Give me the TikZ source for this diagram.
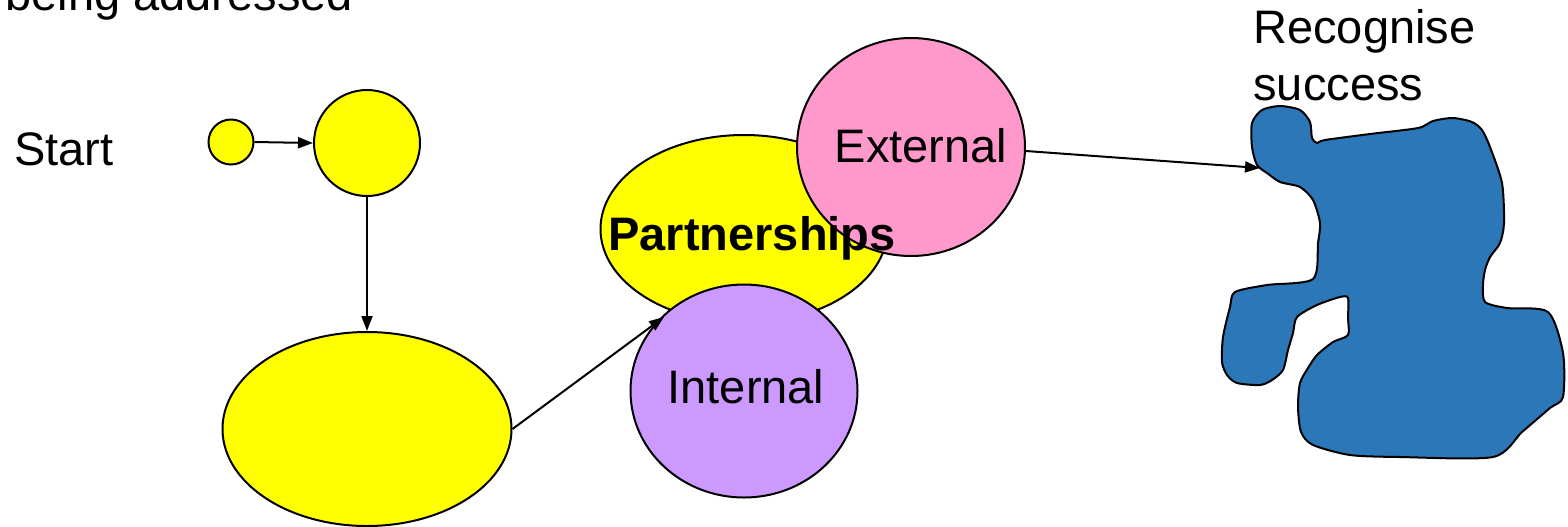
\documentclass[tikz,border=0pt]{standalone}
\usepackage{fontspec}
\setmainfont{Liberation Sans}
\usetikzlibrary{arrows.meta,shapes.geometric}
\definecolor{sunyellow}{HTML}{FFFF00}
\definecolor{rosepink}{HTML}{FF99CC}
\definecolor{lilac}{HTML}{CC99FF}
\definecolor{goalblue}{HTML}{2B77B8}
\tikzset{
  blob/.style={ellipse,draw=black,line width=1pt,inner sep=0pt},
  link/.style={line width=1pt,-{Triangle[length=7.5pt,width=5.5pt]}},
  lbl/.style={font=\fontsize{23.5}{28}\selectfont,inner sep=0pt},
}
\begin{document}
\begin{tikzpicture}[x=0.5pt,y=-0.5pt]
\useasboundingbox (0,0) rectangle (1568,526);

% title line running off the top edge
\node[lbl,anchor=base west] (title) at (5,10) {being addressed};
\node[lbl,anchor=base west] (start) at (14,165) {Start};

% starting chain
\node[blob,fill=sunyellow,minimum width=22.5pt,minimum height=22.5pt] (seed) at (231,142) {};
\node[blob,fill=sunyellow,minimum width=53pt,minimum height=53pt] (grow) at (367,143) {};
\node[blob,fill=sunyellow,minimum width=144.5pt,minimum height=97pt] (base) at (367,429) {};

% partnerships cluster
\node[blob,fill=sunyellow,minimum width=143.5pt,minimum height=94pt] (part) at (744,229) {};
\node[blob,fill=rosepink,minimum width=114pt,minimum height=109pt] (ext) at (911,147) {};
\node[lbl,anchor=base] (exttxt) at (921,162) {External};
\node[lbl,anchor=base west,font=\fontsize{23.5}{28}\selectfont\bfseries] (parttxt) at (608,250) {Partnerships};
\node[blob,fill=lilac,minimum width=113.5pt,minimum height=106.5pt] (int) at (744,391) {};
\node[lbl,anchor=base] (inttxt) at (746,403) {Internal};

% success outline
\node[lbl,anchor=base west] (goaltxt) at (1253,43) {Recognise};
\node[lbl,anchor=base west] (goaltxt2) at (1253,100) {success};
\draw[line width=1pt,fill=goalblue] plot[smooth cycle,tension=0.45] coordinates {
 (1252,123) (1262,110) (1280,106) (1300,110) (1310,122) (1312,138) (1317,143)
 (1325,140) (1370,134) (1418,128) (1433,121) (1453,118) (1472,122) (1482,130)
 (1490,147) (1502,183) (1504,223) (1500,243) (1490,257) (1485,270) (1483,285)
 (1485,302) (1507,308) (1548,312) (1563,353) (1563,397) (1550,408) (1522,432)
 (1493,457) (1400,457) (1350,455) (1313,445) (1301,432) (1298,407) (1300,383)
 (1308,368) (1317,355) (1333,342) (1348,335) (1348,318) (1348,298) (1340,297)
 (1317,305) (1297,317) (1293,333) (1288,350) (1283,370) (1272,380) (1260,385)
 (1237,383) (1227,375) (1222,362) (1223,337) (1230,307) (1235,292) (1267,285)
 (1313,279) (1318,243) (1320,223) (1313,200) (1300,187) (1280,182) (1267,173)
 (1257,165) (1252,147)};
\coordinate (goal) at (1260,168);
\coordinate (partin) at (664,317);

% connectors
\draw[link] (seed.east) -- (grow.west);
\draw[link] (grow.south) -- (base.north);
\draw[link] (base.east) -- (partin);
\draw[link] (ext.east) ++(0,4) -- (goal);
\end{tikzpicture}
\end{document}
